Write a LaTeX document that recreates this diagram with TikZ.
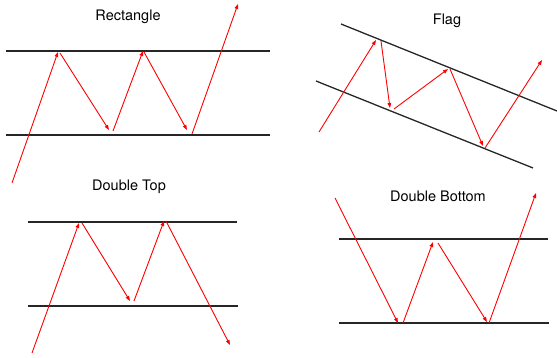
\documentclass[tikz,border=0pt]{standalone}
\usepackage{fontspec}
\setmainfont{TeX Gyre Heros}
\usetikzlibrary{arrows.meta}
\begin{document}
\begin{tikzpicture}[x=1pt,y=-1pt,
  level/.style={draw=black!85, line width=1.3pt},
  move/.style={draw=red, line width=0.9pt, -{Triangle[length=5pt,width=3.6pt]}},
  title/.style={font=\fontsize{14.5}{16}\selectfont}]
\useasboundingbox (0,0) rectangle (557,358);
% ---------- Rectangle ----------
\node[title] (t1) at (128,17) {Rectangle};
\coordinate (r1a) at (6,51);   \coordinate (r1b) at (270,51);
\coordinate (r2a) at (6,135);  \coordinate (r2b) at (270,135);
\draw[level] (r1a) -- (r1b);
\draw[level] (r2a) -- (r2b);
\coordinate (ra0) at (12,183);  \coordinate (ra1) at (58,52);
\coordinate (rb0) at (60,53);   \coordinate (rb1) at (109,130);
\coordinate (rc0) at (113,131); \coordinate (rc1) at (143,51);
\coordinate (rd0) at (144,52);  \coordinate (rd1) at (187,130);
\coordinate (re0) at (192,134); \coordinate (re1) at (238,4);
\draw[move] (ra0) -- (ra1);
\draw[move] (rb0) -- (rb1);
\draw[move] (rc0) -- (rc1);
\draw[move] (rd0) -- (rd1);
\draw[move] (re0) -- (re1);
% ---------- Flag ----------
\node[title] (t2) at (447,21) {Flag};
\coordinate (f1a) at (341,24);  \coordinate (f1b) at (557,111);
\coordinate (f2a) at (316,81);  \coordinate (f2b) at (533,168);
\draw[level] (f1a) -- (f1b);
\draw[level] (f2a) -- (f2b);
\coordinate (fa0) at (319,132); \coordinate (fa1) at (376,40);
\coordinate (fb0) at (381,41);  \coordinate (fb1) at (390,108);
\coordinate (fc0) at (394,109); \coordinate (fc1) at (448,69);
\coordinate (fd0) at (450,69);  \coordinate (fd1) at (483,146);
\coordinate (fe0) at (485,148); \coordinate (fe1) at (542,60);
\draw[move] (fa0) -- (fa1);
\draw[move] (fb0) -- (fb1);
\draw[move] (fc0) -- (fc1);
\draw[move] (fd0) -- (fd1);
\draw[move] (fe0) -- (fe1);
% ---------- Double Top ----------
\node[title] (t3) at (129,187) {Double Top};
\coordinate (d1a) at (28,222);  \coordinate (d1b) at (237,222);
\coordinate (d2a) at (28,306);  \coordinate (d2b) at (238,306);
\draw[level] (d1a) -- (d1b);
\draw[level] (d2a) -- (d2b);
\coordinate (da0) at (32,353);  \coordinate (da1) at (79,223);
\coordinate (db0) at (82,223);  \coordinate (db1) at (130,301);
\coordinate (dc0) at (134,301); \coordinate (dc1) at (164,221);
\coordinate (dd0) at (166,221); \coordinate (dd1) at (230,345);
\draw[move] (da0) -- (da1);
\draw[move] (db0) -- (db1);
\draw[move] (dc0) -- (dc1);
\draw[move] (dd0) -- (dd1);
% ---------- Double Bottom ----------
\node[title] (t4) at (438,196) {Double Bottom};
\coordinate (b1a) at (339,239); \coordinate (b1b) at (548,239);
\coordinate (b2a) at (339,323); \coordinate (b2b) at (549,323);
\draw[level] (b1a) -- (b1b);
\draw[level] (b2a) -- (b2b);
\coordinate (ba0) at (335,198); \coordinate (ba1) at (398,323);
\coordinate (bb0) at (403,323); \coordinate (bb1) at (433,242);
\coordinate (bc0) at (438,243); \coordinate (bc1) at (487,322);
\coordinate (bd0) at (489,323); \coordinate (bd1) at (536,193);
\draw[move] (ba0) -- (ba1);
\draw[move] (bb0) -- (bb1);
\draw[move] (bc0) -- (bc1);
\draw[move] (bd0) -- (bd1);
\end{tikzpicture}
\end{document}
